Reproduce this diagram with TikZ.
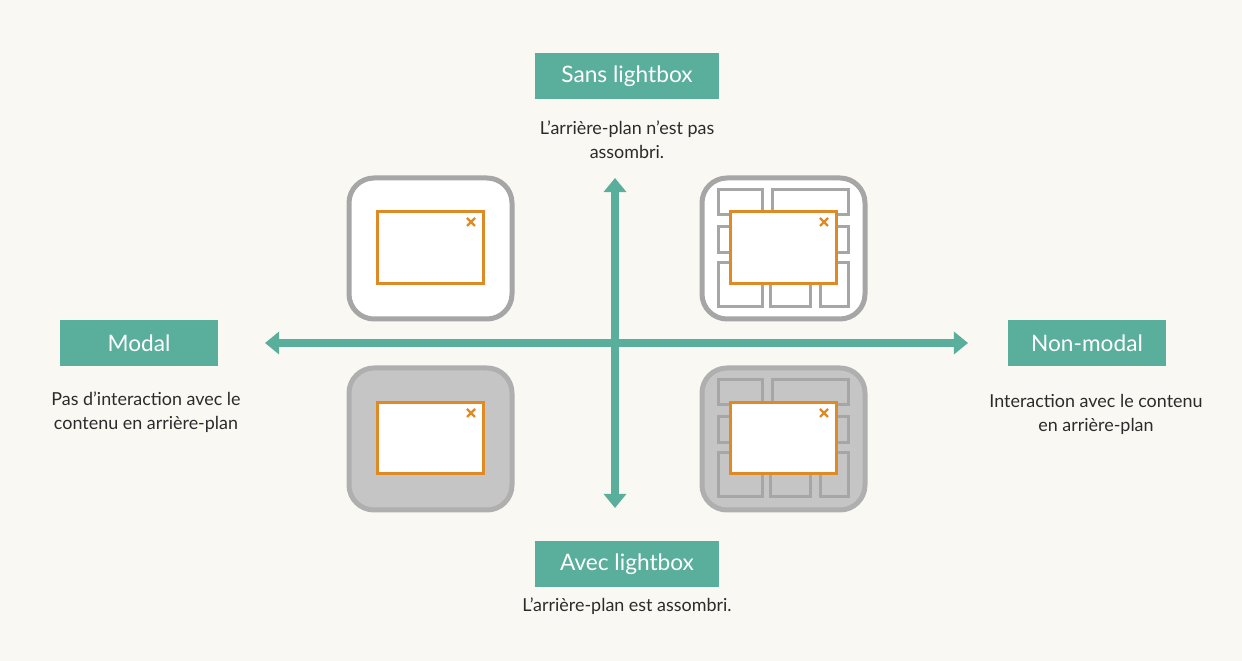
\documentclass[tikz,border=0pt]{standalone}
\usepackage{fontspec}
\setmainfont{Lato}
\usetikzlibrary{arrows.meta,positioning}
\definecolor{lbTeal}{HTML}{5AAE9C}
\definecolor{lbPaper}{HTML}{F9F8F3}
\definecolor{lbGrey}{HTML}{A6A6A6}
\definecolor{lbDark}{HTML}{C5C5C5}
\definecolor{lbOrange}{HTML}{E08A26}
\definecolor{lbText}{HTML}{2B2B2B}
\tikzset{
  lbtitle/.style={
    fill=lbTeal, text=white, minimum height=9.2mm, minimum width=36.8mm,
    font=\fontsize{12.9}{14}\selectfont, inner sep=0pt
  },
  lbdesc/.style={text=lbText, align=center, font=\fontsize{10.2}{13.6}\selectfont, inner sep=0pt},
  axisarrow/.style={{Triangle[width=12.5pt,length=8pt]}-{Triangle[width=12.5pt,length=8pt]}, line width=1.6mm, lbTeal},
  lbframe/.style={draw=lbGrey, line width=1mm, rounded corners=5mm, fill=white},
  lbshade/.style={lbframe, fill=lbDark, draw=lbGrey!90},
  lbcell/.style={draw=lbGrey, line width=0.6mm},
  lbdialog/.style={draw=lbOrange, line width=0.6mm, fill=white},
  lbclose/.style={lbOrange, line width=0.45mm}
}
\begin{document}
\begin{tikzpicture}[x=0.02cm, y=-0.02cm]
  \fill[lbPaper] (0,0) rectangle (1242,661);
  \useasboundingbox (0,0) rectangle (1242,661);

  % axes
  \coordinate (westtip) at (265,343);
  \coordinate (easttip) at (968,343);
  \coordinate (northtip) at (615,178);
  \coordinate (southtip) at (615,508);
  \draw[axisarrow] (westtip) -- (easttip);
  \draw[axisarrow] (southtip) -- (northtip);

  % labels
  \node[lbtitle] (sans) at (627,76) {Sans lightbox};
  \node[lbdesc, below=12.8mm of sans.center, anchor=center] (sansdesc) {L’arrière-plan n’est pas\\assombri.};
  \node[lbtitle, minimum width=31.6mm] (modal) at (139,343) {Modal};
  \node[lbdesc] (modaldesc) at (146,412) {Pas d’interaction avec le\\contenu en arrière-plan};
  \node[lbtitle, minimum width=31.6mm] (nonmodal) at (1087,343) {Non-modal};
  \node[lbdesc] (nonmodaldesc) at (1096,414) {Interaction avec le contenu\\en arrière-plan};
  \node[lbtitle] (avec) at (627,564) {Avec lightbox};
  \node[lbdesc] (avecdesc) at (627,606) {L’arrière-plan est assombri.};

  % top left: modal, no lightbox
  \draw[lbframe] (349,178) rectangle (512,319);
  \draw[lbdialog] (377,212) rectangle (483,284);
  \draw[lbclose] (467,218) -- (475,226) (475,218) -- (467,226);

  % top right: non-modal, no lightbox
  \draw[lbframe] (702,178) rectangle (865,319);
  \foreach \xa/\ya/\xb/\yb in {718/190/762/215, 772/190/848/215,
      718/227/762/253, 772/227/848/253,
      718/263/762/307, 770/263/810/307, 820/263/848/307}
    \draw[lbcell] (\xa,\ya) rectangle (\xb,\yb);
  \draw[lbdialog] (730,212) rectangle (836,284);
  \draw[lbclose] (820,218) -- (828,226) (828,218) -- (820,226);

  % bottom left: modal, lightbox
  \draw[lbshade] (349,368) rectangle (512,510);
  \draw[lbdialog] (377,403) rectangle (483,474);
  \draw[lbclose] (467,409) -- (475,417) (475,409) -- (467,417);

  % bottom right: non-modal, lightbox
  \draw[lbshade] (702,368) rectangle (865,510);
  \foreach \xa/\ya/\xb/\yb in {718/380/762/405, 772/380/848/405,
      718/417/762/443, 772/417/848/443,
      718/453/762/497, 770/453/810/497, 820/453/848/497}
    \draw[lbcell] (\xa,\ya) rectangle (\xb,\yb);
  \draw[lbdialog] (730,403) rectangle (836,474);
  \draw[lbclose] (820,409) -- (828,417) (828,409) -- (820,417);
\end{tikzpicture}
\end{document}
